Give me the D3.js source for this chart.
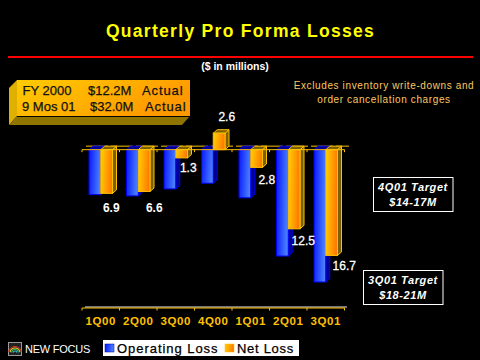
<!DOCTYPE html>
<html>
<head>
<meta charset="utf-8">
<script src="https://cdn.jsdelivr.net/npm/d3@7"></script>
<style>
  html, body { margin: 0; padding: 0; background: #000; }
  svg { display: block; }
  text { font-family: "Liberation Sans", Arial, sans-serif; }
</style>
</head>
<body>
<svg id="chart" width="480" height="360"></svg>
<script>
const quarters = ['1Q00', '2Q00', '3Q00', '4Q00', '1Q01', '2Q01', '3Q01'];
const operatingLoss = [-7.1, -7.3, -6.2, -5.3, -7.6, -16.8, -20.9];
const netLoss = [-6.9, -6.6, -1.3, 2.6, -2.8, -12.5, -16.7];
const netLabels = ['6.9', '6.6', '1.3', '2.6', '2.8', '12.5', '16.7'];
const summaryRows = [
  ['FY 2000', '$12.2M', 'Actual'],
  ['9 Mos 01', '$32.0M', 'Actual']
];
const noteLines = ['Excludes inventory write-downs and', 'order cancellation charges'];
const targets = [
  ['4Q01 Target', '$14-17M'],
  ['3Q01 Target', '$18-21M']
];
const seriesNames = ['Operating Loss', 'Net Loss'];

const svg = d3.select('#chart');
const defs = svg.append('defs');

function gradient(id, stops, x2, y2) {
  const g = defs.append('linearGradient').attr('id', id)
    .attr('x1', 0).attr('y1', 0).attr('x2', x2).attr('y2', y2);
  stops.forEach((c, i) => {
    g.append('stop').attr('offset', i / (stops.length - 1)).attr('stop-color', c);
  });
}
gradient('blueFill', ['#0818ff', '#4a80ff'], 1, 0.15);
gradient('orangeFill', ['#ffd000', '#ff7a00'], 1, 0.15);
gradient('boxFill', ['#ffcc00', '#ff9900'], 1, 0.4);

svg.append('rect').attr('width', 480).attr('height', 360).attr('fill', '#000');

// Title block
svg.append('text')
    .attr('x', 240.5).attr('y', 37)
    .attr('text-anchor', 'middle')
    .attr('fill', '#ffff00')
    .attr('font-size', 17.5)
    .attr('font-weight', 'bold')
    .attr('letter-spacing', 1.3)
    .text('Quarterly Pro Forma Losses');
svg.append('rect')
    .attr('x', 8).attr('y', 56).attr('width', 465).attr('height', 2)
    .attr('fill', '#ff0000');
svg.append('text')
    .attr('x', 235).attr('y', 70)
    .attr('text-anchor', 'middle')
    .attr('fill', '#fff')
    .attr('font-size', 10.5)
    .attr('font-weight', 'bold')
    .text('($ in millions)');

// Summary box
const box = svg.append('g');
box.append('path').attr('d', 'M9,88L17,80V116L9,125Z').attr('fill', '#e0b000');
box.append('path').attr('d', 'M17,116H190L182,125H9Z').attr('fill', '#8f7400');
box.append('rect')
    .attr('x', 17).attr('y', 80).attr('width', 173).attr('height', 36)
    .attr('fill', 'url(#boxFill)');
box.append('rect')
    .attr('x', 17).attr('y', 116).attr('width', 173).attr('height', 1)
    .attr('fill', '#000');
const colX = [[22.5, 88, 142], [22, 90, 145]];
const colSpacing = [0, 0, 0.9];
summaryRows.forEach((row, i) => {
  row.forEach((s, j) => {
    box.append('text')
        .attr('x', colX[i][j]).attr('y', 95 + i * 16)
        .attr('fill', '#111')
        .attr('font-size', 13)
        .attr('letter-spacing', colSpacing[j])
        .attr('stroke', '#111').attr('stroke-width', 0.25)
        .text(s);
  });
});

// Note
noteLines.forEach((s, i) => {
  svg.append('text')
      .attr('x', 384).attr('y', 89 + i * 14)
      .attr('text-anchor', 'middle')
      .attr('fill', '#ffc860')
      .attr('font-size', 10)
      .attr('letter-spacing', 0.62)
      .text(s);
});

// Chart scales
const x = d3.scaleBand().domain(quarters).range([82, 344.5]);
const sub = d3.scaleBand().domain(seriesNames).range([7, 30.5]);
const y = d3.scaleLinear().domain([-25, 5]).range([308, 118]);
const dx = 4, dy = 3.5;  // 3d depth

// Floor, back lines
svg.append('rect')
    .attr('x', 85).attr('y', y(-25) - 2).attr('width', 262).attr('height', 2)
    .attr('fill', '#777');
svg.append('line')
    .attr('x1', 86).attr('x2', 349)
    .attr('y1', y(0) - dy).attr('y2', y(0) - dy)
    .attr('stroke', '#ffc000').attr('stroke-width', 1)
    .attr('stroke-dasharray', '22,3');

function bar(g, name, i, v, fill, stroke, side) {
  const x0 = x(quarters[i]) + sub(name);
  const x1 = x0 + sub.bandwidth();
  const top = Math.min(y(v), y(0));
  const bot = Math.max(y(v), y(0));
  g.append('path')
      .attr('d', d3.line()([[x1, top], [x1 + dx, top - dy], [x1 + dx, bot - dy], [x1, bot]]) + 'Z')
      .attr('fill', side).attr('stroke', stroke).attr('stroke-width', 1);
  g.append('path')
      .attr('d', d3.line()([[x0, top], [x0 + dx, top - dy], [x1 + dx, top - dy], [x1, top]]) + 'Z')
      .attr('fill', side).attr('stroke', stroke).attr('stroke-width', 1);
  g.append('rect')
      .attr('x', x0).attr('y', top)
      .attr('width', x1 - x0).attr('height', bot - top)
      .attr('fill', fill).attr('stroke', stroke).attr('stroke-width', 1);
}

const bars = svg.append('g');
quarters.forEach((q, i) => {
  bar(bars, seriesNames[0], i, operatingLoss[i], 'url(#blueFill)', '#0000f0', '#000090');
  bar(bars, seriesNames[1], i, netLoss[i], 'url(#orangeFill)', '#ffc000', '#7a6000');
});

// Axes, ticks on the band edges
function edgeAxis(yPos) {
  const g = svg.append('g');
  g.append('line')
      .attr('x1', x.range()[0]).attr('x2', x.range()[1])
      .attr('y1', yPos).attr('y2', yPos)
      .attr('stroke', '#ffc000').attr('stroke-width', 1);
  g.selectAll('.tick-mark')
    .data(quarters.concat(null))
    .join('line')
      .attr('x1', (d, i) => x.range()[0] + i * x.step())
      .attr('x2', (d, i) => x.range()[0] + i * x.step())
      .attr('y1', yPos).attr('y2', yPos + 2.5)
      .attr('stroke', '#ffc000');
}
edgeAxis(y(0));
edgeAxis(y(-25));

const xAxis = svg.append('g')
    .attr('transform', `translate(0,${y(-25)})`)
    .call(d3.axisBottom(x).tickSize(0).tickPadding(8.5));
xAxis.select('.domain').remove();
xAxis.selectAll('text')
    .attr('fill', '#ffc000')
    .attr('font-family', '"Liberation Sans", Arial, sans-serif')
    .attr('font-size', 11.5)
    .attr('font-weight', 'bold')
    .attr('letter-spacing', 0.6);

// Value labels, hand nudged like the slide
const labelDx = [10.5, 16, 12.5, 13.5, 16, 15, 18.5];
const labelDy = [19, 21, 14, -12, 17, 16, 15];
netLabels.forEach((s, i) => {
  const v = netLoss[i];
  svg.append('text')
      .attr('x', x(quarters[i]) + x.bandwidth() / 2 + labelDx[i])
      .attr('y', y(v) + labelDy[i])
      .attr('text-anchor', 'middle')
      .attr('fill', '#fff')
      .attr('font-size', 12)
      .attr('stroke', '#fff').attr('stroke-width', i < 2 ? 0 : 0.3)
      .attr('font-weight', i < 2 ? 'bold' : 'normal')
      .attr('font-family', i < 2 ? '"Liberation Serif", serif' : null)
      .text(s);
});

// Target boxes
[[373, 177.5], [363, 270.5]].forEach((p, i) => {
  svg.append('rect')
      .attr('x', p[0] + 0.5).attr('y', p[1])
      .attr('width', 79.5).attr('height', 34)
      .attr('fill', 'none').attr('stroke', '#fff');
  targets[i].forEach((s, j) => {
    svg.append('text')
        .attr('x', p[0] + 40).attr('y', p[1] + 13.5 + j * 15)
        .attr('text-anchor', 'middle')
        .attr('fill', '#fff')
        .attr('font-size', 11)
        .attr('font-weight', 'bold')
        .attr('font-style', 'italic')
        .attr('letter-spacing', 0.6)
        .text(s);
  });
});

// Logo
const logo = svg.append('g');
logo.append('rect')
    .attr('x', 8.5).attr('y', 342.5).attr('width', 13).attr('height', 13)
    .attr('fill', '#222').attr('stroke', '#999');
['#e03030', '#f0d020', '#30c060', '#30c0e0'].forEach((c, i) => {
  logo.append('path')
      .attr('d', d3.arc()({innerRadius: 6 - i * 1.5, outerRadius: 7 - i * 1.5, startAngle: -1.4, endAngle: 1.4}))
      .attr('transform', 'translate(15,353)')
      .attr('fill', c);
});
logo.append('text')
    .attr('x', 25).attr('y', 353)
    .attr('fill', '#fff')
    .attr('font-size', 11)
    .attr('letter-spacing', -0.25)
    .text('NEW FOCUS');

// Legend
svg.append('rect')
    .attr('x', 103).attr('y', 340).attr('width', 196).attr('height', 16)
    .attr('fill', '#fff');
const legendX = [[105, 117], [225, 237]];
seriesNames.forEach((s, i) => {
  svg.append('rect')
      .attr('x', legendX[i][0]).attr('y', 344).attr('width', 9).attr('height', 8)
      .attr('fill', i ? 'url(#orangeFill)' : 'url(#blueFill)')
      .attr('stroke', i ? '#ffc000' : '#0000a0').attr('stroke-width', 0.5);
  svg.append('text')
      .attr('x', legendX[i][1]).attr('y', 353)
      .attr('fill', '#000')
      .attr('font-size', 13)
      .attr('letter-spacing', i ? 0.7 : 0.95)
      .attr('stroke', '#000').attr('stroke-width', 0.25)
      .text(s);
});
</script>
</body>
</html>
